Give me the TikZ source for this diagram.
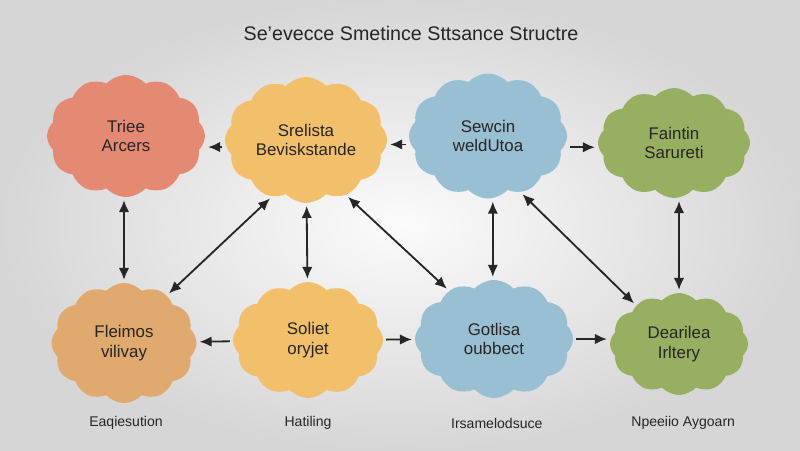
\documentclass[tikz,border=0pt]{standalone}
\usepackage{fontspec}
\setmainfont{Liberation Sans}
\usepackage{xcolor}
\usetikzlibrary{arrows.meta,positioning,shapes.symbols}

\definecolor{cred}{HTML}{E58A72}
\definecolor{cyel}{HTML}{F2BF6A}
\definecolor{cblue}{HTML}{99BFD2}
\definecolor{cgreen}{HTML}{97AF60}
\definecolor{ctan}{HTML}{E0A96D}
\definecolor{ink}{HTML}{262626}

\begin{document}
\begin{tikzpicture}[
    >={Latex[length=3mm,width=2.6mm]},
    every node/.style={font=\fontsize{12}{14}\selectfont, text=ink},
    puff/.style={cloud, cloud puffs=12, cloud puff arc=95, aspect=1.25,
        draw=none, inner sep=0pt, align=center},
    link/.style={draw=ink, line width=1.3pt, shorten <=2pt, shorten >=2pt},
    tag/.style={font=\fontsize{10}{12}\selectfont}
]

% background
\useasboundingbox (0,0) rectangle (20,-11.25);
\fill[inner color=white!97!gray, outer color=black!16] (0,0) rectangle (20,-11.25);

% title
\node[font=\fontsize{14}{16}\selectfont] (title) at (10.275,-0.825)
{Se'evecce Smetince Sttsance Structre};

% top row
\node[puff, fill=cred, minimum width=3.95cm, minimum height=3.05cm] (trie)
at (3.15,-3.4) {Triee\\Arcers};
\node[puff, fill=cyel, minimum width=4.05cm, minimum height=3.125cm] (sbev)
at (7.65,-3.5) {Srelista\\Beviskstande};
\node[puff, fill=cblue, minimum width=3.95cm, minimum height=3.125cm] (sewc)
at (12.2,-3.4) {Sewcin\\weldUtoa};
\node[puff, fill=cgreen, minimum width=3.8cm, minimum height=2.75cm] (fain)
at (16.85,-3.575) {Faintin\\Sarureti};

% bottom row
\node[puff, fill=ctan, minimum width=3.625cm, minimum height=3.0cm] (flei)
at (3.1,-8.575) {Fleimos\\vilivay};
\node[puff, fill=cyel, minimum width=3.75cm, minimum height=2.9cm] (soli)
at (7.7,-8.5) {Soliet\\oryjet};
\node[puff, fill=cblue, minimum width=3.95cm, minimum height=2.95cm] (goti)
at (12.35,-8.475) {Gotlisa\\oubbect};
\node[puff, fill=cgreen, minimum width=3.45cm, minimum height=2.55cm] (dear)
at (16.975,-8.6) {Dearilea\\Irltery};

% captions
\node[tag] (cap1) at (3.15,-10.575) {Eaqiesution};
\node[tag] (cap2) at (7.7,-10.575) {Hatiling};
\node[tag] (cap3) at (12.42,-10.575) {Irsamelodsuce};
\node[tag] (cap4) at (17.08,-10.575) {Npeeiio Aygoarn};

% arrows, top row
\draw[link,->] ([yshift=-5pt]sbev.west) -- ([yshift=-5pt]sbev.west -| trie.east);
\draw[link,->] ([yshift=-6pt]sewc.west) -- ([yshift=-6pt]sewc.west -| sbev.east);
\draw[link,->] ([yshift=-8pt]sewc.east) -- ([yshift=-8pt]sewc.east -| fain.west);

% arrows, bottom row
\draw[link,->] (soli) -- (flei);
\draw[link,->] (soli) -- (goti);
\draw[link,->] (goti.east) -- (goti.east -| dear.west);

% between rows
\draw[link,<->] (flei.north |- trie.south) -- (flei.north);
\draw[link,<->] (sbev) -- (soli);
\draw[link,<->] ([xshift=0.12cm]sewc.south) -- ([xshift=0.12cm]sewc.south |- goti.north);
\draw[link,<->] (dear.north |- fain.south) -- (dear.north);
\draw[link,<->] (sbev.239) -- (flei.48);
\draw[link,<->] (sbev.306) -- (goti.133);
\draw[link,<->] (sewc.300) -- (dear.138);

\end{tikzpicture}
\end{document}
